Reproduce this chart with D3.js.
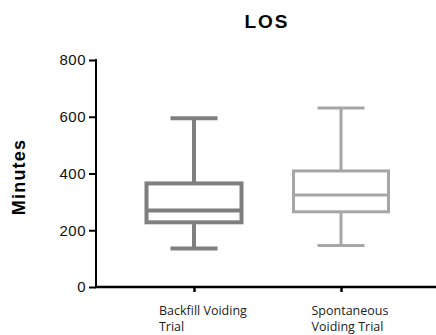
<!DOCTYPE html>
<html>
<head>
<meta charset="utf-8">
<script src="https://cdn.jsdelivr.net/npm/d3@7"></script>
<style>
  body { margin: 0; background: #fff; }
  svg { display: block; }
</style>
</head>
<body>
<div id="chart"></div>
<script>
// LOS box plot
var categories = ["Backfill Voiding Trial", "Spontaneous Voiding Trial"];
var labelLines = [["Backfill Voiding", "Trial"], ["Spontaneous", "Voiding Trial"]];
var whiskerMin = [136, 146];
var q1 = [228, 265];
var median = [270, 324];
var q3 = [365, 409];
var whiskerMax = [595, 631];
var yTicks = [0, 200, 400, 600, 800];

var svgWidth = 436;
var svgHeight = 335;

var margin = { top: 60, right: 0, bottom: 48, left: 96 };
var width = svgWidth - margin.left - margin.right;
var height = svgHeight - margin.top - margin.bottom;

var colors = ["#7f7f7f", "#a6a6a6"];
var strokes = [4, 3];

var svg = d3.select("#chart")
  .append("svg")
  .attr("width", svgWidth)
  .attr("height", svgHeight);

var chartGroup = svg.append("g")
  .attr("transform", `translate(${margin.left}, ${margin.top})`);

var data = categories.map(function(c, i) {
  return { cat: c, lo: whiskerMin[i], q1: q1[i], med: median[i], q3: q3[i], hi: whiskerMax[i], i: i };
});

var xScale = d3.scalePoint()
  .domain(categories)
  .range([98, 245]);

var yScale = d3.scaleLinear()
  .domain([0, 800])
  .range([height, 0]);

var boxWidth = 95;
var capWidth = 47;

// boxes
var boxes = chartGroup.selectAll(".box")
  .data(data)
  .enter()
  .append("g")
  .attr("class", "box")
  .attr("stroke", d => colors[d.i])
  .attr("stroke-width", d => strokes[d.i])
  .attr("fill", "none");

boxes.append("line")
  .attr("x1", d => xScale(d.cat))
  .attr("x2", d => xScale(d.cat))
  .attr("y1", d => yScale(d.hi))
  .attr("y2", d => yScale(d.q3));

boxes.append("line")
  .attr("x1", d => xScale(d.cat))
  .attr("x2", d => xScale(d.cat))
  .attr("y1", d => yScale(d.q1))
  .attr("y2", d => yScale(d.lo));

boxes.append("line")
  .attr("x1", d => xScale(d.cat) - capWidth / 2)
  .attr("x2", d => xScale(d.cat) + capWidth / 2)
  .attr("y1", d => yScale(d.hi))
  .attr("y2", d => yScale(d.hi));

boxes.append("line")
  .attr("x1", d => xScale(d.cat) - capWidth / 2)
  .attr("x2", d => xScale(d.cat) + capWidth / 2)
  .attr("y1", d => yScale(d.lo))
  .attr("y2", d => yScale(d.lo));

boxes.append("rect")
  .attr("x", d => xScale(d.cat) - boxWidth / 2)
  .attr("width", boxWidth)
  .attr("y", d => yScale(d.q3))
  .attr("height", d => yScale(d.q1) - yScale(d.q3))
  .attr("fill", "#fff");

boxes.append("line")
  .attr("x1", d => xScale(d.cat) - boxWidth / 2)
  .attr("x2", d => xScale(d.cat) + boxWidth / 2)
  .attr("y1", d => yScale(d.med))
  .attr("y2", d => yScale(d.med));

// axes
var leftAxis = d3.axisLeft(yScale)
  .tickValues(yTicks)
  .tickSize(7)
  .tickSizeOuter(0)
  .tickPadding(3);

var bottomAxis = d3.axisBottom(xScale)
  .tickSize(5)
  .tickSizeOuter(0)
  .tickFormat("");

var yAxisG = chartGroup.append("g").call(leftAxis);
yAxisG.select(".domain").attr("stroke-width", 2).attr("d", `M0,${height + 1}V-1`);
yAxisG.selectAll(".tick line").attr("stroke-width", 2);
yAxisG.selectAll(".tick text")
  .style("font-family", "'Liberation Sans', Arial, sans-serif")
  .style("font-size", "15px")
  .style("letter-spacing", "0.5px")
  .attr("fill", "#111");

var xAxisG = chartGroup.append("g")
  .attr("transform", `translate(0, ${height})`)
  .call(bottomAxis);
xAxisG.select(".domain").attr("stroke-width", 2.5).attr("d", `M-1,0H${width}`);
xAxisG.selectAll(".tick line").attr("stroke-width", 2.5);

// category labels, left aligned blocks
data.forEach(function(d) {
  var t = chartGroup.append("text")
    .style("font-family", "'Open Sans', sans-serif")
    .style("font-size", "12.5px")
    .attr("fill", "#222");
  labelLines[d.i].forEach(function(line, k) {
    t.append("tspan")
      .attr("x", 0)
      .attr("y", height + 28 + k * 16)
      .text(line);
  });
  var w = t.node().getBBox().width;
  t.selectAll("tspan").attr("x", xScale(d.cat) + 9 - w / 2);
});

// title
svg.append("text")
  .attr("x", 267)
  .attr("y", 28)
  .attr("text-anchor", "middle")
  .style("font-family", "'Liberation Sans', Arial, sans-serif")
  .style("font-weight", "bold")
  .style("font-size", "19px")
  .style("letter-spacing", "2px")
  .text("LOS");

// y axis label
svg.append("text")
  .attr("transform", "rotate(-90)")
  .attr("x", -177)
  .attr("y", 25)
  .attr("text-anchor", "middle")
  .style("font-family", "'Liberation Sans', Arial, sans-serif")
  .style("font-weight", "bold")
  .style("font-size", "18px")
  .style("letter-spacing", "1.2px")
  .text("Minutes");
</script>
</body>
</html>
